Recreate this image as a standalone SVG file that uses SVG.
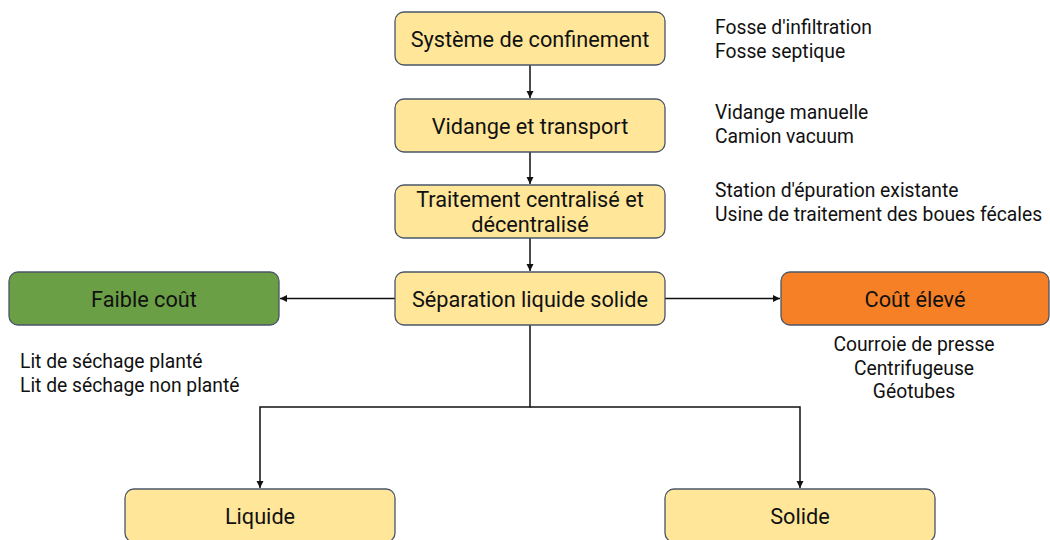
<svg xmlns="http://www.w3.org/2000/svg" width="1050" height="540" viewBox="0 0 1050 540">
<style>
.box{stroke:#4a5568;stroke-width:1.3}
.y{fill:#FFE699}
.g{fill:#6A9F45}
.o{fill:#F58025}
.t{font-family:Roboto,"Liberation Sans",sans-serif;font-size:21.7px;fill:#111;text-anchor:middle}
.s{font-family:Roboto,"Liberation Sans",sans-serif;font-size:19.3px;fill:#111}
.c{fill:none;stroke:#111;stroke-width:1.5}
</style>
<defs>
<marker id="ah" markerWidth="8" markerHeight="8" refX="7" refY="4" orient="auto" markerUnits="userSpaceOnUse">
<path d="M0,0.5 L7,4 L0,7.5 Z" fill="#111"/>
</marker>
</defs>
<rect width="1050" height="540" fill="#fff"/>
<g id="connectors">
<line class="c" x1="530" y1="65" x2="530" y2="98" marker-end="url(#ah)"/>
<line class="c" x1="530" y1="152" x2="530" y2="184" marker-end="url(#ah)"/>
<line class="c" x1="530" y1="238" x2="530" y2="271" marker-end="url(#ah)"/>
<line class="c" x1="395" y1="298.5" x2="280" y2="298.5" marker-end="url(#ah)"/>
<line class="c" x1="665" y1="298.5" x2="780" y2="298.5" marker-end="url(#ah)"/>
<polyline class="c" points="530,325 530,407 260,407 260,488" marker-end="url(#ah)"/>
<polyline class="c" points="530,407 800,407 800,488" marker-end="url(#ah)"/>
</g>
<g id="n1"><rect class="box y" x="395" y="12" width="270" height="53" rx="9"/><text class="t" x="530" y="46.5">Système de confinement</text></g>
<g id="n2"><rect class="box y" x="395" y="99" width="270" height="53" rx="9"/><text class="t" x="530" y="133.5">Vidange et transport</text></g>
<g id="n3"><rect class="box y" x="395" y="185" width="270" height="53" rx="9"/><text class="t" x="530" y="206.5">Traitement centralisé et</text><text class="t" x="530" y="231.5">décentralisé</text></g>
<g id="n4"><rect class="box y" x="395" y="272" width="270" height="53" rx="9"/><text class="t" x="530" y="306.5">Séparation liquide solide</text></g>
<g id="n5"><rect class="box g" x="9" y="272" width="270" height="53" rx="9"/><text class="t" x="144" y="306.5">Faible coût</text></g>
<g id="n6"><rect class="box o" x="781" y="272" width="268" height="53" rx="9"/><text class="t" x="915" y="306.5">Coût élevé</text></g>
<g id="n7"><rect class="box y" x="125" y="489" width="270" height="53" rx="9"/><text class="t" x="260" y="524">Liquide</text></g>
<g id="n8"><rect class="box y" x="665" y="489" width="270" height="53" rx="9"/><text class="t" x="800" y="524">Solide</text></g>
<g id="notes">
<text class="s" x="715" y="34">Fosse d'infiltration</text>
<text class="s" x="715" y="57.5">Fosse septique</text>
<text class="s" x="715" y="119">Vidange manuelle</text>
<text class="s" x="715" y="142.5">Camion vacuum</text>
<text class="s" x="715" y="197">Station d'épuration existante</text>
<text class="s" x="715" y="221">Usine de traitement des boues fécales</text>
<text class="s" x="20" y="367.5">Lit de séchage planté</text>
<text class="s" x="20" y="391.5">Lit de séchage non planté</text>
<text class="s" x="914" y="351" text-anchor="middle">Courroie de presse</text>
<text class="s" x="914" y="374.5" text-anchor="middle">Centrifugeuse</text>
<text class="s" x="914" y="398" text-anchor="middle">Géotubes</text>
</g>
</svg>
